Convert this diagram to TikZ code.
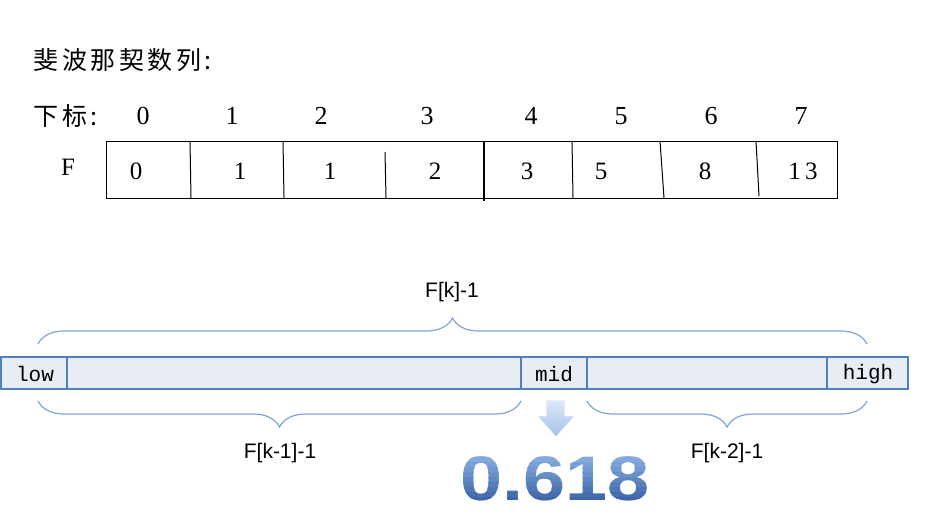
\documentclass[tikz,border=0pt]{standalone}
\usepackage{fontspec}
\setmainfont{Liberation Serif}
\newfontfamily\cjk[LetterSpace=14]{Noto Sans CJK SC}
\newfontfamily\lbl{Liberation Sans}
\newfontfamily\cellfont{Liberation Mono}
\usepackage{xcolor}
\usetikzlibrary{decorations.pathreplacing, math}
\definecolor{myblue}{RGB}{79,129,189}
\definecolor{mylight}{RGB}{232,237,245}
\definecolor{mybrace}{RGB}{130,163,208}
\definecolor{myarrowtop}{RGB}{222,232,250}
\definecolor{myarrowbot}{RGB}{165,192,234}
\definecolor{mynumtop}{RGB}{140,178,228}
\definecolor{mynumbot}{RGB}{52,92,160}
\tikzset{
  idx/.style={font=\fontsize{26}{28}\selectfont},
  val/.style={font=\fontsize{25}{28}\selectfont},
  seg/.style={draw=myblue, fill=mylight, line width=1.2},
  seglabel/.style={font=\cellfont\fontsize{21}{23}\selectfont},
  brc/.style={draw=mybrace, line width=1.2, decorate, decoration={brace, amplitude=26}},
  brclabel/.style={font=\lbl\fontsize{21}{24}\selectfont},
  bignum/.style={font=\lbl\bfseries\fontsize{63}{66}\selectfont, xscale=1.2}
}

\begin{document}
\begin{tikzpicture}[x=1pt,y=-1pt]
\tikzmath{
\T=357; \B=389;
}
\useasboundingbox (0,0) rectangle (925,514);

\node[anchor=west, font=\cjk\fontsize{25}{28}\selectfont] (title) at (30,60) {斐波那契数列:};
\node[anchor=west, font=\cjk\fontsize{25}{28}\selectfont] (index) at (30,116) {下标:};

\foreach \i/\x in {0/143,1/232,2/321,3/427,4/531,5/621,6/711,7/801}{
\node[idx] (i\i) at (\x,116) {\i};
}

\node[val] (fname) at (68,167) {F};
\begin{scope}[line width=1]
\draw (106,141) rectangle (837,198);
\draw (190,141) -- (191,198);
\draw (283,141) -- (284,198);
\draw (385,152) -- (386,198);
\draw[line width=1.8] (484,141) -- (484,201);
\draw (572,141) -- (573,198);
\draw (660,141) -- (664,198);
\draw (756,141) -- (759,196);
\end{scope}
\foreach \v/\x [count=\n] in {0/136,1/240,1/330,2/435,3/527,5/601,8/705,1\,3/803}{
\node[val] (f\n) at (\x,171) {\v};
}

% search range
\foreach \a/\b in {1/67,67/521,521/587,587/827,827/908}{
\draw[seg] (\a,\T) rectangle (\b,\B);
}
\node[seglabel] (low) at (35,374) {low};
\node[seglabel] (mid) at (554,374) {mid};
\node[seglabel] (high) at (868,374) {high};

\coordinate (kl) at (38,344);
\coordinate (kr) at (867,344);
\coordinate (al) at (38,401);
\coordinate (ar) at (521,401);
\coordinate (bl) at (587,401);
\coordinate (br) at (867,401);
\draw[brc] (kl) -- (kr);
\draw[brc] (ar) -- (al);
\draw[brc] (br) -- (bl);
\node[brclabel] (k) at (452,292) {F[k]-1};
\node[brclabel] (k1) at (280,453) {F[k-1]-1};
\node[brclabel] (k2) at (727,453) {F[k-2]-1};

\shade[top color=myarrowtop, bottom color=myarrowbot, draw=white, line width=0.8]
  (546,400) -- (565,400) -- (565,416) -- (575,416) -- (556,437) -- (537,416) -- (546,416) -- cycle;
\foreach \s in {0,...,10}{
\begin{scope}
\clip (440,452+5*\s) rectangle (670,458+5*\s);
\node[bignum, text=mynumbot!\the\numexpr 10*\s\relax!mynumtop] (ratio\s) at (555,479) {0.618};
\end{scope}
}
\end{tikzpicture}
\end{document}
